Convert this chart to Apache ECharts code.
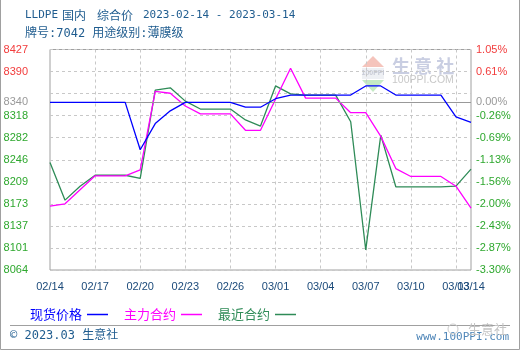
<!DOCTYPE html>
<html><head><meta charset="utf-8">
<script src="https://cdn.jsdelivr.net/npm/echarts@6/dist/echarts.min.js"></script>
<style>html,body{margin:0;padding:0;background:#fff}#c{width:520px;height:350px}</style>
</head><body><div id="c"></div>
<script>
const dates = ['02/14','02/15','02/16','02/17','02/18','02/19','02/20','02/21','02/22','02/23','02/24','02/25','02/26','02/27','02/28',
  '03/01','03/02','03/03','03/04','03/05','03/06','03/07','03/08','03/09','03/10','03/11','03/12','03/13','03/14'];
const spotPrice = [8340,8340,8340,8340,8340,8340,8262,8305,8326,8340,8340,8340,8340,8332,8332,8346,8352,8352,8352,8352,8352,8367,8367,8352,8352,8352,8352,8316,8307];
const mainContract = [8169,8173,8196,8219,8219,8219,8229,8358,8355,8334,8321,8321,8321,8294,8294,8345,8396,8347,8347,8347,8323,8323,8284,8231,8218,8218,8218,8202,8166];
const nearContract = [8241,8179,8202,8220,8220,8220,8215,8360,8364,8342,8329,8329,8329,8311,8301,8367,8354,8352,8352,8352,8308,8097,8286,8201,8201,8201,8201,8202,8230];
const seriesNames = ['现货价格','主力合约','最近合约'];
const leftLabels = ['8064','8101','8137','8173','8209','8246','8282','8318','','8390','8427'];
const rightLabels = ['-3.30%','-2.87%','-2.43%','-2.00%','-1.56%','-1.13%','-0.69%','-0.26%','','0.61%','1.05%'];
const baseValue = 8340;
const baseLeftLabel = '8340';
const baseRightLabel = '0.00%';
const yMin = 8064, yMax = 8427, yStep = 36.3;

const RED = '#f23c3c', GREEN = '#2ea82e', GRAY = '#999999';
const TXT = '#1f5c8f';
const idx = v => Math.round((Number(v) - yMin) / yStep);
const labColor = v => (Number(v) > baseValue ? RED : GREEN);
const numFont = 'Liberation Sans';
const mono = "'DejaVu Sans Mono','Noto Sans CJK SC'";
const cjk = "'Noto Sans CJK SC'";
const last = dates.length - 1;
const xLabelStyle = {margin: 11, color: '#1b4a7a', fontSize: 11, fontFamily: numFont, hideOverlap: false};

const chart = echarts.init(document.getElementById('c'), null, {renderer:'canvas'});
chart.setOption({
  animation: false,
  backgroundColor: '#fff',
  grid: {left: 50, right: 49, top: 49.5, bottom: 80, show: true, borderColor: '#a0a0a0', borderWidth: 1, backgroundColor: 'transparent'},
  legend: {
    left: 25, top: 303, align: 'right', icon: 'rect', itemWidth: 21, itemHeight: 1.5, itemGap: 16,
    textStyle: {fontSize: 13, fontFamily: cjk},
    data: [
      {name: seriesNames[0], textStyle: {color: '#0000ff'}},
      {name: seriesNames[1], textStyle: {color: '#ff00ff'}},
      {name: seriesNames[2], textStyle: {color: '#2e8b57'}}
    ]
  },
  xAxis: [
    {type: 'category', data: dates, boundaryGap: false, position: 'bottom',
     axisLine: {show: false}, axisTick: {show: false},
     axisLabel: Object.assign({interval: (i) => i % 3 === 0}, xLabelStyle),
     splitLine: {show: true, interval: (i) => i % 3 === 0 && i > 0 && i < last, lineStyle: {color: '#c8c8c8', type: [3, 3]}}},
    {type: 'category', data: dates, boundaryGap: false, position: 'bottom',
     axisLine: {show: false}, axisTick: {show: false}, splitLine: {show: false},
     axisLabel: Object.assign({interval: (i) => i === last, showMaxLabel: true}, xLabelStyle)}
  ],
  yAxis: [
    {type: 'value', min: yMin, max: yMax, interval: yStep, position: 'left',
     axisLine: {show: false}, axisTick: {show: false},
     splitLine: {show: true, lineStyle: {color: '#c8c8c8', type: [3, 3]}},
     axisLabel: {margin: 22, fontSize: 11, fontFamily: numFont, formatter: v => leftLabels[idx(v)] || '', color: v => labColor(v)}},
    {type: 'value', min: yMin, max: yMax, interval: yStep, position: 'right',
     axisLine: {show: false}, axisTick: {show: false}, splitLine: {show: false},
     axisLabel: {margin: 5, fontSize: 11, fontFamily: numFont, align: 'left', formatter: v => rightLabels[idx(v)] || '', color: v => labColor(v)}}
  ],
  series: [
    {name: seriesNames[0], type: 'line', data: spotPrice, symbol: 'none', color: '#0000ff', lineStyle: {width: 1.3, color: '#0000ff'}, z: 5},
    {name: seriesNames[1], type: 'line', data: mainContract, symbol: 'none', color: '#ff00ff', lineStyle: {width: 1.3, color: '#ff00ff'}, z: 4},
    {name: seriesNames[2], type: 'line', data: nearContract, symbol: 'none', color: '#2e8b57', lineStyle: {width: 1.3, color: '#2e8b57'}, z: 3},
    {type: 'line', data: [], z: 2, silent: true,
     markLine: {silent: true, symbol: 'none', animation: false,
       lineStyle: {color: GRAY, type: 'solid', width: 1},
       data: [
         {yAxis: baseValue, label: {show: true, position: 'start', distance: 22, formatter: baseLeftLabel, color: GRAY, fontSize: 11, fontFamily: numFont}},
         {yAxis: baseValue, label: {show: true, position: 'end', distance: 5, formatter: baseRightLabel, color: GRAY, fontSize: 11, fontFamily: numFont}}
       ]}}
  ],
  graphic: [
    {type: 'text', x: 25, y: 15, style: {text: 'LLDPE', font: '11px ' + mono, fill: TXT, verticalAlign: 'middle'}},
    {type: 'text', x: 62, y: 15, style: {text: '国内', font: '12px ' + cjk, fill: TXT, verticalAlign: 'middle'}},
    {type: 'text', x: 97, y: 15, style: {text: '综合价', font: '12px ' + cjk, fill: TXT, verticalAlign: 'middle'}},
    {type: 'text', x: 143, y: 15, style: {text: '2023-02-14 - 2023-03-14', font: '11px ' + mono, fill: TXT, verticalAlign: 'middle'}},
    {type: 'text', x: 25, y: 34, style: {text: '牌号:7042 用途级别:薄膜级', font: '12px ' + mono, fill: TXT, verticalAlign: 'middle'}},
    // watermark in plot
    {type: 'polygon', shape: {points: [[373, 56], [362, 67], [384, 67]]}, style: {fill: '#f5c4bc'}, z: -1},
    {type: 'rect', shape: {x: 362, y: 68, width: 22, height: 11}, style: {fill: '#eef0f4'}, z: -1},
    {type: 'text', x: 373, y: 73.5, style: {text: '100PPI', font: 'bold 7px ' + numFont, fill: '#c8cbd6', align: 'center', verticalAlign: 'middle'}, z: -1},
    {type: 'polygon', shape: {points: [[362, 80], [384, 80], [373, 92]]}, style: {fill: '#c4eac4'}, z: -1},
    {type: 'text', x: 392, y: 66, style: {text: '生 意 社', font: 'bold 18px ' + cjk, fill: '#c9cee2', verticalAlign: 'middle'}, z: -1},
    {type: 'text', x: 392, y: 80.5, style: {text: '100PPI.COM', font: '10.5px ' + numFont, fill: '#c8c8c8', verticalAlign: 'middle'}, z: -1},
    // footer
    {type: 'line', shape: {x1: 10, y1: 325.5, x2: 510, y2: 325.5}, style: {stroke: '#a0a0a0', lineWidth: 1}},
    {type: 'text', x: 10, y: 336, style: {text: '© 2023.03 生意社', font: '12px ' + mono, fill: TXT, verticalAlign: 'middle'}},
    {type: 'text', x: 509, y: 337, style: {text: 'www.100PPI.com', font: '11px ' + mono, fill: '#4f86b8', align: 'right', verticalAlign: 'middle'}},
    {type: 'text', x: 468, y: 329, style: {text: '生意社', font: '13px ' + cjk, fill: '#c4c4c4', verticalAlign: 'middle'}},
    {type: 'circle', shape: {cx: 453, cy: 329, r: 5}, style: {fill: 'none', stroke: '#cccccc', lineWidth: 1}},
    // outer frame
    {type: 'polyline', shape: {points: [[0.5, 0], [0.5, 349.5], [519.5, 349.5], [519.5, 0]]}, style: {stroke: '#a0a0a0', lineWidth: 1, fill: 'none'}}
  ]
});
</script></body></html>
